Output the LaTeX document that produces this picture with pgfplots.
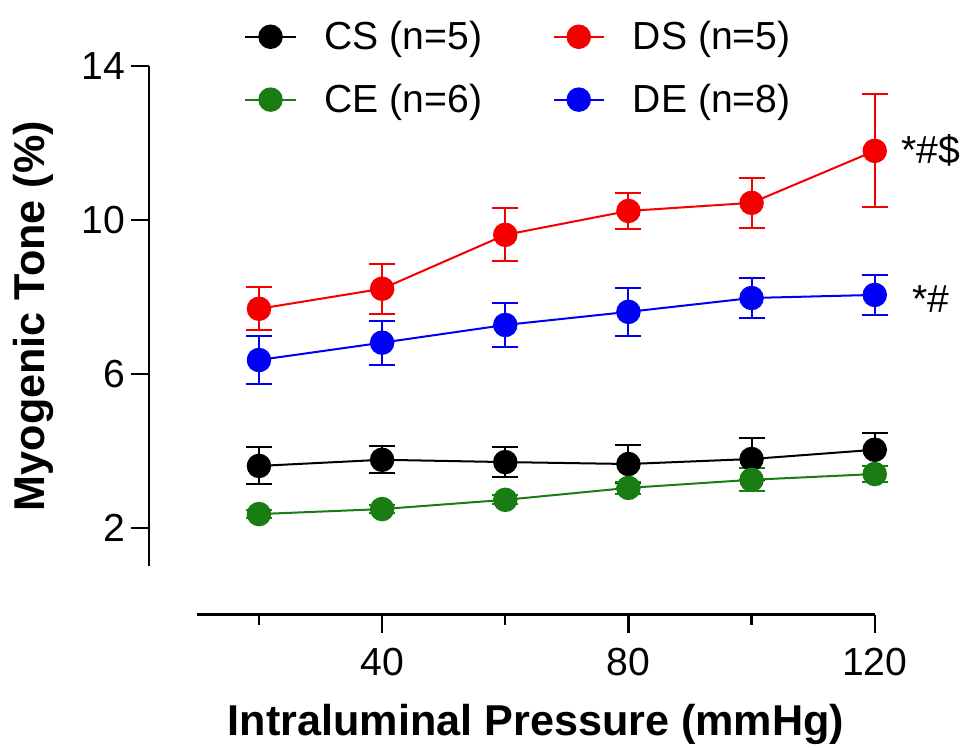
\documentclass[border=0pt]{standalone}
\usepackage{pgfplots}
\pgfplotsset{compat=1.18}
\usepackage{fontspec}
\setmainfont{Liberation Sans}
\definecolor{cgreen}{RGB}{25,125,20}
\definecolor{cred}{RGB}{245,0,0}
\definecolor{cblue}{RGB}{0,0,245}

\pgfplotstableread{
x y e
20 3.61 0.48
40 3.77 0.35
60 3.71 0.40
80 3.66 0.50
100 3.79 0.55
120 4.03 0.43
}\CS
\pgfplotstableread{
x y e
20 7.69 0.56
40 8.21 0.65
60 9.61 0.69
80 10.23 0.47
100 10.44 0.65
120 11.79 1.47
}\DS
\pgfplotstableread{
x y e
20 2.36 0.10
40 2.49 0.10
60 2.73 0.12
80 3.04 0.15
100 3.25 0.30
120 3.40 0.20
}\CE
\pgfplotstableread{
x y e
20 6.36 0.62
40 6.81 0.57
60 7.27 0.58
80 7.61 0.62
100 7.97 0.52
120 8.05 0.51
}\DE

\begin{document}
\begin{tikzpicture}
\begin{axis}[
  scale only axis, width=337.5pt, height=249.5pt,
  xmin=10, xmax=120, ymin=1, ymax=14,
  axis x line*=bottom, axis y line*=left,
  axis x line shift=24pt, axis y line shift=24pt,
  axis line style={line width=1.2pt, -},
  xtick={40,80,120}, minor xtick={20,60,100},
  ytick={2,6,10,14},
  tick align=outside, major tick length=9pt, minor tick length=5pt,
  tick style={line width=1.2pt, black},
  ticklabel style={font=\fontsize{19.5}{22}\selectfont},
  xticklabel style={yshift=-4pt},
  yticklabel style={xshift=0.5pt},
  /pgf/number format/assume math mode=true,
  xlabel={Intraluminal Pressure (mmHg)}, ylabel={Myogenic Tone (\%)},
  label style={font=\bfseries\fontsize{21.5}{25}\selectfont},
  xlabel style={inner sep=1pt},
  xlabel shift=10pt, ylabel shift=6.8pt,
  clip=false,
  legend columns=2,
  legend style={draw=none, fill=none, at={(0.06,1.098)}, anchor=north west,
    font=\fontsize{19.5}{22}\selectfont, row sep=15.7pt,
    nodes={inner sep=0pt},
    /tikz/every odd column/.append style={column sep=14pt},
    /tikz/every even column/.append style={column sep=35pt}},
  legend image code/.code={\draw[mark repeat=2, mark phase=2] plot coordinates {(0pt,0pt) (12.5pt,0pt) (25pt,0pt)};},
  myplot/.style={color=#1, line width=1pt, mark=*, mark size=5.6pt, mark options={solid, fill=#1},
    error bars/.cd, y dir=both, y explicit, error bar style={line width=1pt, #1},
    error mark options={line width=1pt, mark size=6.5pt, rotate=90, #1}},
]
\addplot[myplot=black] table[x=x, y=y, y error=e] {\CS};
\addlegendentry{CS (n=5)}
\addplot[myplot=cred] table[x=x, y=y, y error=e] {\DS};
\addlegendentry{DS (n=5)}
\addplot[myplot=cgreen] table[x=x, y=y, y error=e] {\CE};
\addlegendentry{CE (n=6)}
\addplot[myplot=cblue] table[x=x, y=y, y error=e] {\DE};
\addlegendentry{DE (n=8)}
\node[anchor=west, inner xsep=0.5pt, font=\fontsize{19.5}{22}\selectfont] at (axis cs:120,11.79) [xshift=12.5pt] {*\#\$};
\node[anchor=west, inner xsep=0.5pt, font=\fontsize{19.5}{22}\selectfont] at (axis cs:120,8.05) [xshift=18pt, yshift=-2pt] {*\#};
\end{axis}
\path (current bounding box.north) ++(0,8.5pt);
\path (current bounding box.west) ++(-3.5pt,0);
\end{tikzpicture}
\end{document}
